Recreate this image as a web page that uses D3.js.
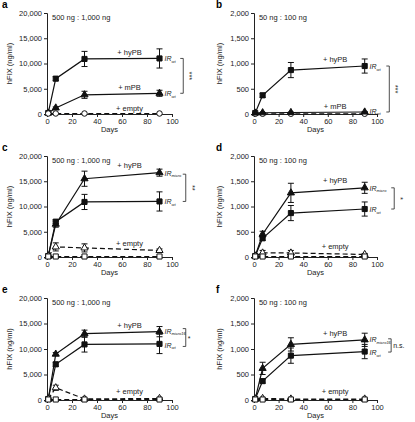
<!DOCTYPE html>
<html><head><meta charset="utf-8">
<script src="https://cdn.jsdelivr.net/npm/d3@7"></script>
<style>body{margin:0;background:#fff}svg{display:block;font-family:"Liberation Sans",Arial,sans-serif}</style>
</head><body><svg id="c" width="415" height="422"></svg>
<script>
const days = [1, 7, 30, 90];
const xTicks = [0, 20, 40, 60, 80, 100];
const yTicksHigh = [0, 5000, 10000, 15000, 20000];
const yTicksLow = [0, 500, 1000, 1500, 2000];

// panel a (500 ng : 1,000 ng)
const aHyPBwt = [200, 7000, 10900, 11000], aHyPBwtErr = [100, 400, 1500, 1900];
const aMPBwt = [200, 1200, 3800, 4100], aMPBwtErr = [100, 200, 700, 600];
const aEmpty = [100, 100, 100, 100], aEmptyErr = [0, 0, 0, 0];
// panel b (50 ng : 100 ng)
const bHyPBwt = [20, 370, 870, 950], bHyPBwtErr = [10, 40, 150, 140];
const bMPBwt = [20, 25, 30, 40], bMPBwtErr = [5, 5, 5, 10];
const bEmpty = [5, 5, 5, 5], bEmptyErr = [0, 0, 0, 0];
// panel c
const cHyPBmicro = [200, 6500, 15500, 16700], cHyPBmicroErr = [100, 600, 1500, 700];
const cHyPBwt = aHyPBwt, cHyPBwtErr = aHyPBwtErr;
const cEmptyMicro = [200, 2000, 1800, 1300], cEmptyMicroErr = [100, 800, 800, 300];
const cEmptyWt = [100, 100, 100, 100], cEmptyWtErr = [0, 0, 0, 0];
// panel d
const dHyPBmicro = [20, 450, 1270, 1370], dHyPBmicroErr = [10, 60, 190, 110];
const dHyPBwt = bHyPBwt, dHyPBwtErr = bHyPBwtErr;
const dEmptyMicro = [20, 80, 80, 50], dEmptyMicroErr = [5, 50, 50, 20];
const dEmptyWt = [10, 10, 10, 10], dEmptyWtErr = [0, 0, 0, 0];
// panel e
const eHyPBmicro16 = [200, 9000, 13000, 13400], eHyPBmicro16Err = [100, 300, 700, 1000];
const eHyPBwt = aHyPBwt, eHyPBwtErr = aHyPBwtErr;
const eEmptyMicro16 = [200, 2400, 200, 300], eEmptyMicro16Err = [100, 500, 100, 100];
const eEmptyWt = [100, 100, 100, 100], eEmptyWtErr = [0, 0, 0, 0];
// panel f
const fHyPBmicro16 = [20, 620, 1090, 1180], fHyPBmicro16Err = [10, 120, 130, 130];
const fHyPBwt = bHyPBwt, fHyPBwtErr = bHyPBwtErr;
const fEmptyMicro16 = [20, 30, 20, 20], fEmptyMicro16Err = [5, 10, 5, 5];
const fEmptyWt = [10, 10, 10, 10], fEmptyWtErr = [0, 0, 0, 0];

const panels = [
  {letter:"a", note:"500 ng : 1,000 ng", yMax:20000, yTicks:yTicksHigh, col:0, row:0,
   series:[
    {v:aHyPBwt, e:aHyPBwtErr, m:"square", fill:true, dash:false},
    {v:aMPBwt, e:aMPBwtErr, m:"triangle", fill:true, dash:false},
    {v:aEmpty, e:aEmptyErr, m:"circle", fill:false, dash:true}],
   labels:[{t:"+ hyPB", y:11000, dy:-3},{t:"+ mPB", y:4100, dy:-3},{t:"+ empty", y:0, dy:-3}],
   irs:[{sub:"wt", y:11000},{sub:"wt", y:4100}],
   sig:{top:11000, bot:4100, text:"***", rot:true, bx:109}},
  {letter:"b", note:"50 ng : 100 ng", yMax:2000, yTicks:yTicksLow, col:1, row:0,
   series:[
    {v:bHyPBwt, e:bHyPBwtErr, m:"square", fill:true, dash:false},
    {v:bEmpty, e:bEmptyErr, m:"circle", fill:false, dash:true},
    {v:bMPBwt, e:bMPBwtErr, m:"triangle", fill:true, dash:false}],
   labels:[{t:"+ hyPB", y:950, dy:-4},{t:"+ mPB", y:0, dy:-5}],
   irs:[{sub:"wt", y:950},{sub:"wt", y:60}],
   sig:{top:950, bot:40, text:"***", rot:true, bx:110}},
  {letter:"c", note:"500 ng : 1,000 ng", yMax:20000, yTicks:yTicksHigh, col:0, row:1,
   series:[
    {v:cHyPBmicro, e:cHyPBmicroErr, m:"triangle", fill:true, dash:false},
    {v:cHyPBwt, e:cHyPBwtErr, m:"square", fill:true, dash:false},
    {v:cEmptyMicro, e:cEmptyMicroErr, m:"triangle", fill:false, dash:true},
    {v:cEmptyWt, e:cEmptyWtErr, m:"square", fill:false, dash:true}],
   labels:[{t:"+ hyPB", y:16700, dy:-5},{t:"+ empty", y:1500, dy:-3}],
   irs:[{sub:"micro", y:16700},{sub:"wt", y:11000}],
   sig:{top:16400, bot:11000, text:"**", rot:true, bx:111}},
  {letter:"d", note:"50 ng : 100 ng", yMax:2000, yTicks:yTicksLow, col:1, row:1,
   series:[
    {v:dHyPBmicro, e:dHyPBmicroErr, m:"triangle", fill:true, dash:false},
    {v:dHyPBwt, e:dHyPBwtErr, m:"square", fill:true, dash:false},
    {v:dEmptyMicro, e:dEmptyMicroErr, m:"triangle", fill:false, dash:true},
    {v:dEmptyWt, e:dEmptyWtErr, m:"square", fill:false, dash:true}],
   labels:[{t:"+ hyPB", y:1370, dy:-5},{t:"+ empty", y:80, dy:-4}],
   irs:[{sub:"micro", y:1370},{sub:"wt", y:950}],
   sig:{top:1370, bot:950, text:"*", rot:true, bx:114}},
  {letter:"e", note:"500 ng : 1,000 ng", yMax:20000, yTicks:yTicksHigh, col:0, row:2,
   series:[
    {v:eHyPBmicro16, e:eHyPBmicro16Err, m:"triangle", fill:true, dash:false},
    {v:eHyPBwt, e:eHyPBwtErr, m:"square", fill:true, dash:false},
    {v:eEmptyMicro16, e:eEmptyMicro16Err, m:"triangle", fill:false, dash:true},
    {v:eEmptyWt, e:eEmptyWtErr, m:"square", fill:false, dash:true}],
   labels:[{t:"+ hyPB", y:13400, dy:-4},{t:"+ empty", y:300, dy:-4}],
   irs:[{sub:"micro16", y:13600},{sub:"wt", y:10800}],
   sig:{top:14000, bot:10500, text:"*", rot:false, bx:111}},
  {letter:"f", note:"50 ng : 100 ng", yMax:2000, yTicks:yTicksLow, col:1, row:2,
   series:[
    {v:fHyPBmicro16, e:fHyPBmicro16Err, m:"triangle", fill:true, dash:false},
    {v:fHyPBwt, e:fHyPBwtErr, m:"square", fill:true, dash:false},
    {v:fEmptyMicro16, e:fEmptyMicro16Err, m:"triangle", fill:false, dash:true},
    {v:fEmptyWt, e:fEmptyWtErr, m:"square", fill:false, dash:true}],
   labels:[{t:"+ hyPB", y:1180, dy:-4},{t:"+ empty", y:20, dy:-5}],
   irs:[{sub:"micro16", y:1190},{sub:"wt", y:940}],
   sig:{top:1200, bot:940, text:"n.s.", rot:false, bx:111.5}}
];

const svg = d3.select("#c");
const colX = [[47, 172], [254, 377]];
const rowY = [[13, 114], [156, 257], [298, 400]];
const letterX = [2, 216];
const letterY = [8, 151, 293];
const titleX = [12, 222];

panels.forEach(p => {
  const [x0, x1] = colX[p.col], [y0, y1] = rowY[p.row];
  const x = d3.scaleLinear().domain([0, 100]).range([x0, x1]);
  const y = d3.scaleLinear().domain([0, p.yMax]).range([y1, y0]);
  const g = svg.append("g");

  g.append("text").attr("x", letterX[p.col]).attr("y", letterY[p.row])
    .attr("font-size", 10).attr("font-weight", "bold").text(p.letter);

  const ya = g.append("g").attr("transform", `translate(${x0},0)`)
    .call(d3.axisLeft(y).tickValues(p.yTicks).tickSize(3).tickPadding(2).tickFormat(d3.format(",")));
  const xa = g.append("g").attr("transform", `translate(0,${y1})`)
    .call(d3.axisBottom(x).tickValues(xTicks).tickSize(3).tickPadding(2));
  [ya, xa].forEach(a => {
    a.selectAll("text").attr("font-size", 7.5).attr("font-family", "Liberation Sans, Arial, sans-serif").attr("fill", "#222");
    a.selectAll("path,line").attr("stroke", "#222").attr("stroke-width", 1);
  });

  g.append("text").attr("transform", `translate(${titleX[p.col]},${(y0 + y1) / 2}) rotate(-90)`)
    .attr("text-anchor", "middle").attr("font-size", 7.5).attr("fill", "#222").text("hFIX (ng/ml)");
  g.append("text").attr("x", (x0 + x1) / 2).attr("y", y1 + 18).attr("text-anchor", "middle")
    .attr("font-size", 7.5).attr("fill", "#222").text("Days");
  g.append("text").attr("x", x(4)).attr("y", y0 + 7).attr("font-size", 7.5).attr("fill", "#222").text(p.note);

  const line = d3.line().x((d, i) => x(days[i])).y(d => y(d));
  p.series.forEach(s => {
    g.append("path").datum(s.v).attr("d", line).attr("fill", "none").attr("stroke", "#111")
      .attr("stroke-width", 1.2).attr("stroke-dasharray", s.dash ? "5,3" : null);
    s.v.forEach((v, i) => {
      const e = s.e[i];
      if (e > 0) {
        const cx = x(days[i]);
        const eg = g.append("g").attr("stroke", "#111").attr("stroke-width", 1);
        eg.append("line").attr("x1", cx).attr("x2", cx).attr("y1", y(v - e)).attr("y2", y(v + e));
        eg.append("line").attr("x1", cx - 3).attr("x2", cx + 3).attr("y1", y(v - e)).attr("y2", y(v - e));
        eg.append("line").attr("x1", cx - 3).attr("x2", cx + 3).attr("y1", y(v + e)).attr("y2", y(v + e));
      }
    });
    const symType = s.m === "square" ? d3.symbolSquare : s.m === "triangle" ? d3.symbolTriangle : d3.symbolCircle;
    const size = s.m === "square" ? 26 : s.m === "triangle" ? 22 : 24;
    g.selectAll(null).data(s.v).enter().append("path")
      .attr("d", d3.symbol().type(symType).size(size))
      .attr("transform", (d, i) => `translate(${x(days[i])},${y(d)})`)
      .attr("fill", s.fill ? "#111" : "#fff").attr("stroke", "#111").attr("stroke-width", 1);
  });

  p.labels.forEach(l => {
    g.append("text").attr("x", x(66)).attr("y", y(l.y) + l.dy).attr("text-anchor", "middle")
      .attr("font-size", 7.5).attr("fill", "#222").text(l.t);
  });
  p.irs.forEach(r => {
    const t = g.append("text").attr("x", x(94)).attr("y", y(r.y) + 3).attr("font-size", 7)
      .attr("font-style", "italic").attr("fill", "#222");
    t.append("tspan").text("IR");
    t.append("tspan").attr("font-size", 4).attr("dy", 1.5).text(r.sub);
  });

  const bx = x(p.sig.bx), bt = y(p.sig.top), bb = y(p.sig.bot);
  g.append("path").attr("d", `M${bx - 3},${bt}H${bx}V${bb}H${bx - 3}`).attr("fill", "none")
    .attr("stroke", "#222").attr("stroke-width", 0.8);
  if (p.sig.rot) {
    g.append("text").attr("transform", `translate(${bx + 4},${(bt + bb) / 2}) rotate(90)`)
      .attr("text-anchor", "middle").attr("font-size", 7.5).attr("fill", "#222").text(p.sig.text);
  } else {
    g.append("text").attr("x", bx + 2).attr("y", (bt + bb) / 2 + 3)
      .attr("font-size", 7).attr("fill", "#222").text(p.sig.text);
  }
});
</script></body></html>
